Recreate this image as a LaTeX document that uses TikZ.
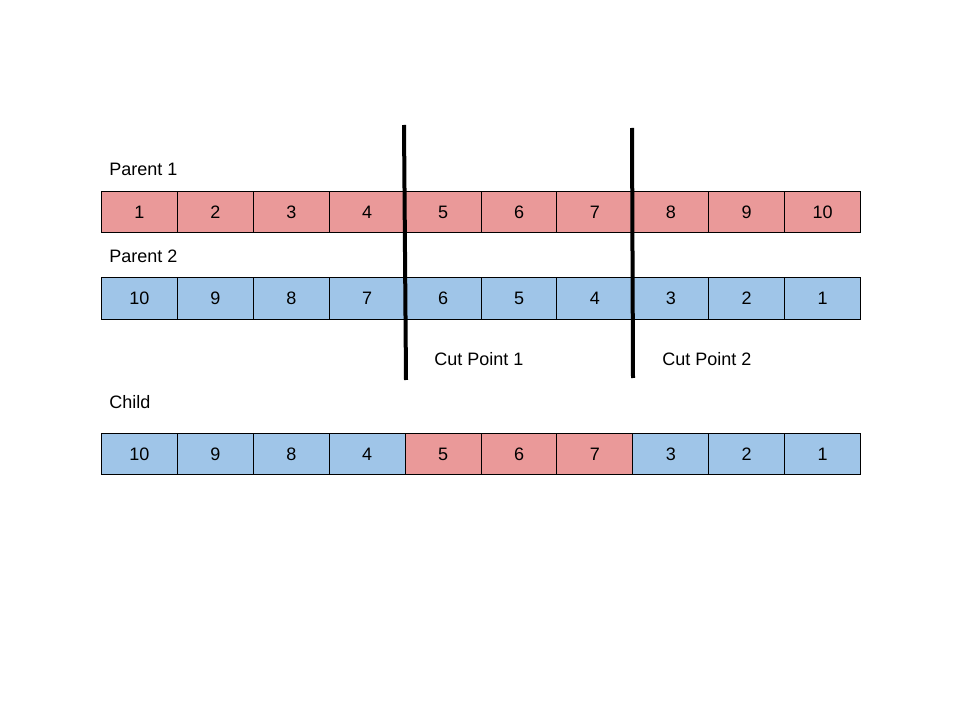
\documentclass[tikz,border=0pt]{standalone}
\usepackage{fontspec}
\setmainfont{Liberation Sans}
\usetikzlibrary{positioning,calc}
\definecolor{genred}{HTML}{EA9999}
\definecolor{genblue}{HTML}{9FC5E8}
\tikzset{
  gene/.style={draw=black,line width=0.75pt,minimum width=57pt,minimum height=31pt,
    inner sep=0pt,anchor=north west,font=\fontsize{13.5}{16}\selectfont},
  redgene/.style={gene,fill=genred},
  bluegene/.style={gene,fill=genblue},
  rowlabel/.style={anchor=west,inner sep=0pt,font=\fontsize{13.5}{16}\selectfont},
  cutline/.style={line width=3pt,line cap=butt}
}
\begin{document}
\begin{tikzpicture}[x=0.75pt,y=-0.75pt]
  \useasboundingbox (0,0) rectangle (960,720);

  % parent 1
  \node[rowlabel] (lp1) at (109,169) {Parent 1};
  \foreach \v [count=\i] in {1,2,3,4,5,6,7,8,9,10}
    \node[redgene] (a\i) at ({101+75.9*(\i-1)},191) {\v};

  % parent 2
  \node[rowlabel] (lp2) at (109,256) {Parent 2};
  \foreach \v [count=\i] in {10,9,8,7,6,5,4,3,2,1}
    \node[bluegene] (b\i) at ({101+75.9*(\i-1)},277.5) {\v};

  % child
  \node[rowlabel] (lch) at (109,402) {Child};
  \foreach \v/\s [count=\i] in {10/bluegene,9/bluegene,8/bluegene,4/bluegene,5/redgene,6/redgene,7/redgene,3/bluegene,2/bluegene,1/bluegene}
    \node[\s] (c\i) at ({101+75.9*(\i-1)},433) {\v};

  % cut points
  \coordinate (k1top) at (404,125);
  \coordinate (k1bot) at (406,380);
  \coordinate (k2top) at (632,128);
  \coordinate (k2bot) at (633,378);
  \draw[cutline] (k1top) -- (k1bot);
  \draw[cutline] (k2top) -- (k2bot);
  \node[rowlabel] (lk1) at (434,359) {Cut Point 1};
  \node[rowlabel] (lk2) at (662,359) {Cut Point 2};
\end{tikzpicture}
\end{document}
